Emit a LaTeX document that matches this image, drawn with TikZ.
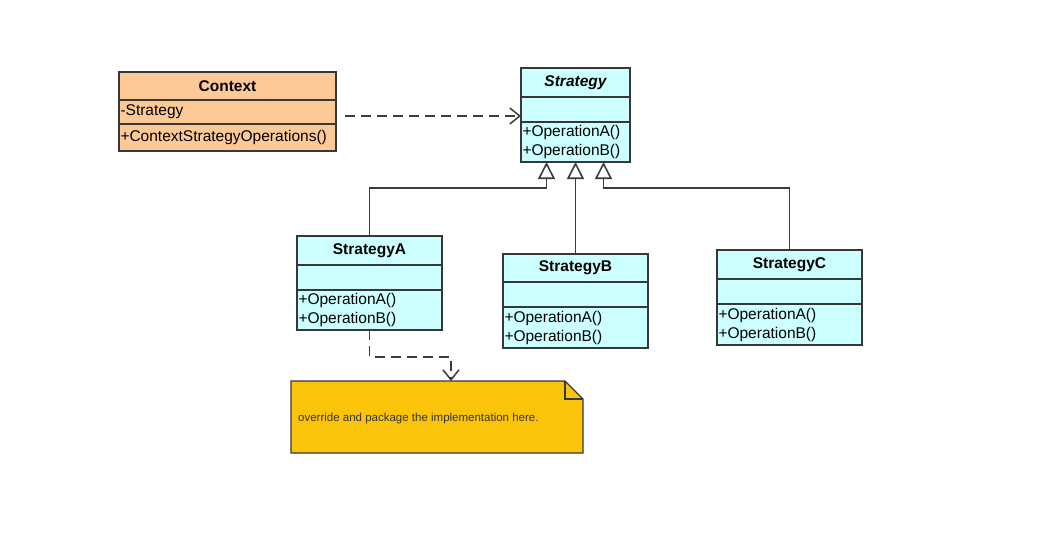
\documentclass[tikz,border=0pt]{standalone}
\usepackage{fontspec}
\setmainfont{Liberation Sans}
\usetikzlibrary{positioning,arrows.meta}

\definecolor{ctxpeach}{RGB}{253,201,151}
\definecolor{stratcyan}{RGB}{204,255,255}
\definecolor{notegold}{RGB}{250,196,10}
\definecolor{umlline}{RGB}{55,55,55}
\definecolor{linkgray}{RGB}{60,60,60}

\tikzset{
  classrow/.style={draw=umlline, line width=1.2pt, outer sep=0pt, inner xsep=1.5pt, inner ysep=0pt,
                   align=left, font=\fontsize{15.5}{19}\selectfont},
  classtitle/.style={classrow, align=center, font=\fontsize{15.5}{19}\selectfont\bfseries},
  ctxrow/.style={fill=ctxpeach, minimum width=217pt, text width=214pt},
  strow/.style={fill=stratcyan, minimum width=145pt, text width=142pt},
  baserow/.style={fill=stratcyan, minimum width=109pt, text width=106pt},
  realize/.style={draw=linkgray, line width=1.6pt, -{Triangle[open, length=17pt, width=17pt]}},
  depend/.style={draw=linkgray, line width=1.5pt, dash pattern=on 10pt off 6pt, -{Straight Barb[length=10pt, width=16pt]}},
}

\begin{document}
\begin{tikzpicture}[x=1pt, y=-1pt]
\useasboundingbox (0,0) rectangle (1056,550);

%Context
\node[classtitle, ctxrow, minimum height=28pt, anchor=north west] (cTitle) at (119,72) {Context};
\node[classrow, ctxrow, minimum height=24pt, below=0pt of cTitle] (cAttr) {-Strategy};
\node[classrow, ctxrow, minimum height=27pt, below=0pt of cAttr] (cOps) {+ContextStrategyOperations()};

%Strategy (abstract)
\node[classtitle, baserow, minimum height=29pt, anchor=north west, font=\fontsize{15.5}{19}\selectfont\bfseries\itshape] (sTitle) at (521,68) {Strategy};
\node[classrow, baserow, minimum height=25pt, below=0pt of sTitle] (sAttr) {};
\node[classrow, baserow, minimum height=40pt, below=0pt of sAttr] (sOps) {+OperationA()\\+OperationB()};

%StrategyA
\node[classtitle, strow, minimum height=29pt, anchor=north west] (aTitle) at (297,236) {StrategyA};
\node[classrow, strow, minimum height=25pt, below=0pt of aTitle] (aAttr) {};
\node[classrow, strow, minimum height=40pt, below=0pt of aAttr] (aOps) {+OperationA()\\+OperationB()};

%StrategyB
\node[classtitle, strow, minimum height=28pt, anchor=north west] (bTitle) at (503,254) {StrategyB};
\node[classrow, strow, minimum height=25pt, below=0pt of bTitle] (bAttr) {};
\node[classrow, strow, minimum height=41pt, below=0pt of bAttr] (bOps) {+OperationA()\\+OperationB()};

%StrategyC
\node[classtitle, strow, minimum height=29pt, anchor=north west] (cTitleC) at (717,250) {StrategyC};
\node[classrow, strow, minimum height=25pt, below=0pt of cTitleC] (cAttrC) {};
\node[classrow, strow, minimum height=41pt, below=0pt of cAttrC] (cOpsC) {+OperationA()\\+OperationB()};

%note
\path node[minimum width=292pt, minimum height=72pt, inner sep=0pt, outer sep=0pt, anchor=north west] (note) at (291,381) {};
\filldraw[fill=notegold, draw=umlline, line width=1.2pt, line join=miter]
  (note.north west) -- ([xshift=-18pt]note.north east) -- ([yshift=-18pt]note.north east)
  -- (note.south east) -- (note.south west) -- cycle;
\draw[umlline, line width=1.2pt] ([xshift=-18pt]note.north east) |- ([yshift=-18pt]note.north east);
\node[anchor=west, inner sep=0pt, text=black!80, font=\fontsize{11.5}{13}\selectfont] (noteText) at ([xshift=7pt,yshift=-2pt]note.west) {override and package the implementation here.};

%inheritance
\draw[realize] (aTitle.north) |- ([xshift=-29pt,yshift=-26pt]sOps.south) -- ([xshift=-29pt]sOps.south);
\draw[realize] (bTitle.north) -- (sOps.south);
\draw[realize] (cTitleC.north) |- ([xshift=28pt,yshift=-26pt]sOps.south) -- ([xshift=28pt]sOps.south);

%dependencies
\coordinate (depStart) at (345,116);
\draw[depend] (depStart) -- (depStart -| sAttr.west);
\draw[depend] (aOps.south) -- ++(0,27) -| ([xshift=14pt]note.north);

\end{tikzpicture}
\end{document}
